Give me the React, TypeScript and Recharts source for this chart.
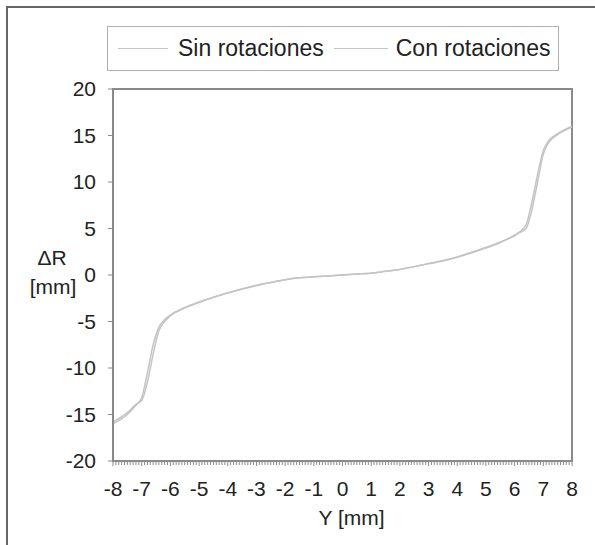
import React from 'react';
import { LineChart, Line, XAxis, YAxis, ReferenceArea, Label } from 'recharts';

// posición Y [mm]
const posY = [-8, -7.5, -7.2, -7, -6.8, -6.6, -6.4, -6.2, -6, -5.5, -5, -4.5, -4, -3.5, -3, -2.5, -2, -1.5, -1, -0.5, 0,
  0.5, 1, 1.5, 2, 2.5, 3, 3.5, 4, 4.5, 5, 5.5, 6, 6.2, 6.4, 6.6, 6.8, 7, 7.2, 7.5, 8];

// ΔR [mm] sin rotaciones
const sinRot = [-16, -15, -14, -13.2, -10.5, -7.5, -5.6, -4.8, -4.3, -3.5, -2.9, -2.4, -1.9, -1.5, -1.1, -0.8, -0.5, -0.3, -0.2, -0.1, 0,
  0.1, 0.2, 0.4, 0.6, 0.9, 1.2, 1.5, 1.9, 2.4, 2.9, 3.5, 4.3, 4.7, 5.4, 7.8, 10.8, 13.4, 14.5, 15.2, 16];

// ΔR [mm] con rotaciones
const conRot = [-15.8, -14.8, -13.9, -13.5, -11.5, -8.5, -6.0, -5.0, -4.4, -3.55, -2.95, -2.4, -1.95, -1.5, -1.15, -0.8, -0.5, -0.3, -0.2, -0.1, 0,
  0.1, 0.2, 0.4, 0.6, 0.9, 1.25, 1.55, 1.95, 2.45, 2.95, 3.55, 4.2, 4.6, 5.0, 7.0, 10.0, 13.0, 14.3, 15.1, 15.9];

const seriesNames = ['Sin rotaciones', 'Con rotaciones'];
const xTicks = [-8, -7, -6, -5, -4, -3, -2, -1, 0, 1, 2, 3, 4, 5, 6, 7, 8];
const yTicks = [-20, -15, -10, -5, 0, 5, 10, 15, 20];
// marcas secundarias cada 0.1 mm en el eje X
const minorTicks = Array.from({ length: 161 }, (_, i) => Math.round((-8 + i * 0.1) * 10) / 10);

const data = posY.map((y, i) => ({ y, sin: sinRot[i], con: conRot[i] }));

const FONT = '"Liberation Sans", Arial, sans-serif';
const lineColor = '#c4c4c4';
const axisColor = '#8a8a8a';

// dibuja la marca y, en los enteros, el número
const XTick = ({ x, y, payload }: any) => {
  const v = payload.value;
  const major = xTicks.includes(v);
  return (
    <g>
      <line x1={x} x2={x} y1={y} y2={y + (major ? 5 : 4)} stroke={axisColor} strokeWidth={1} />
      {major && (
        <text x={x} y={y + 20} dy="0.71em" textAnchor="middle" fill="#222" fontSize={21} fontFamily={FONT}>
          {v}
        </text>
      )}
    </g>
  );
};

const App = () => {
  return (
    <div style={{ position: 'absolute', left: 0, top: 0, width: 595, height: 545, overflow: 'hidden', background: '#fff', fontFamily: FONT }}>
      <div style={{ position: 'absolute', left: 6, top: 6, width: 620, height: 620, border: '2px solid #666' }} />

      {/* leyenda */}
      <div style={{ position: 'absolute', left: 107, top: 26, width: 450, height: 43, border: '1px solid #b0b0b0', display: 'flex', alignItems: 'center', fontSize: 23, color: '#222' }}>
        <div style={{ width: 50, height: 0, borderTop: `1.5px solid ${lineColor}`, marginLeft: 10, marginRight: 10 }} />
        <span>{seriesNames[0]}</span>
        <div style={{ width: 54, height: 0, borderTop: `1.5px solid ${lineColor}`, marginLeft: 10, marginRight: 8 }} />
        <span>{seriesNames[1]}</span>
      </div>

      <div style={{ position: 'absolute', left: 0, top: 0 }}>
        <LineChart width={595} height={545} data={data} margin={{ top: 89, right: 23, bottom: 25, left: 0 }}>
          <XAxis
            dataKey="y"
            type="number"
            domain={[-8, 8]}
            ticks={minorTicks}
            interval={0}
            height={59}
            tickSize={0}
            tickMargin={0}
            axisLine={{ stroke: axisColor, strokeWidth: 2 }}
            tickLine={false}
            tick={<XTick />}
          >
            <Label
              content={({ viewBox }: any) => (
                <text x={viewBox.x + viewBox.width / 2 + 9} y={viewBox.y + 64} textAnchor="middle" fill="#222" fontSize={21} fontFamily={FONT}>
                  Y [mm]
                </text>
              )}
            />
          </XAxis>
          <YAxis
            type="number"
            domain={[-20, 20]}
            ticks={yTicks}
            interval={0}
            width={113}
            tickSize={5}
            tickMargin={12}
            axisLine={{ stroke: axisColor, strokeWidth: 2 }}
            tickLine={{ stroke: axisColor }}
            tick={{ fill: '#222', fontSize: 21, fontFamily: FONT }}
          >
            <Label
              content={() => (
                <text textAnchor="middle" fill="#222" fontSize={21} fontFamily={FONT}>
                  <tspan x={52} y={265}>ΔR</tspan>
                  <tspan x={53} y={294}>[mm]</tspan>
                </text>
              )}
            />
          </YAxis>
          <ReferenceArea x1={-8} x2={8} y1={-20} y2={20} fill="none" stroke={axisColor} strokeWidth={2} />
          <Line type="monotone" dataKey="sin" name={seriesNames[0]} stroke={lineColor} strokeWidth={1.5} dot={false} isAnimationActive={false} />
          <Line type="monotone" dataKey="con" name={seriesNames[1]} stroke={lineColor} strokeWidth={1.5} dot={false} isAnimationActive={false} />
        </LineChart>
      </div>
    </div>
  );
};

export default App;
